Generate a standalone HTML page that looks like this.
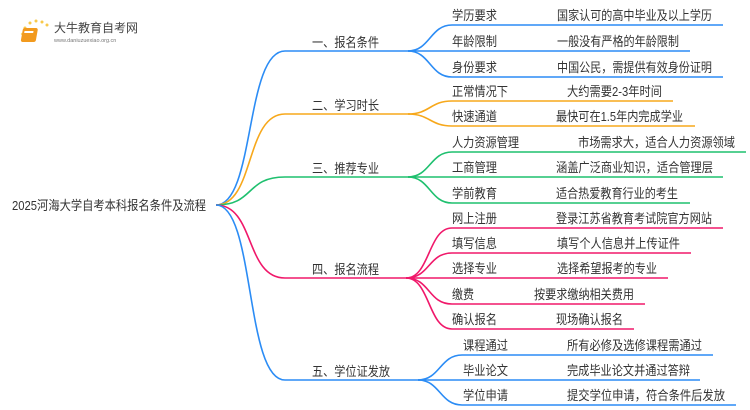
<!DOCTYPE html>
<html><head><meta charset="utf-8"><style>
html,body{margin:0;padding:0;background:#fff;width:750px;height:410px;overflow:hidden}
svg text{font-family:"Liberation Sans","Noto Sans CJK SC",sans-serif;fill:#333}
</style></head><body>
<svg width="750" height="410" viewBox="0 0 750 410" xmlns="http://www.w3.org/2000/svg">
<g>
<circle cx="25" cy="28" r="1.5" fill="#f8c94a"/><circle cx="30" cy="23" r="1.5" fill="#f8c94a"/><circle cx="36" cy="21" r="1.5" fill="#f8c94a"/><circle cx="42" cy="22" r="1.5" fill="#f8c94a"/><circle cx="47" cy="25" r="1.5" fill="#f8c94a"/><circle cx="22" cy="34" r="1.2" fill="#f8d97a"/><circle cx="23" cy="40" r="1.2" fill="#f8d97a"/>
<rect x="28" y="28" width="15" height="14" rx="2" fill="#f29a1e" transform="skewX(-10)"/>
<rect x="30" y="31" width="9" height="2" fill="#fff" transform="skewX(-10)"/>
<text x="54" y="32" font-size="12" style="fill:#444">大牛教育自考网</text>
<text x="54" y="42" font-size="5.5" style="fill:#777">www.daniuzuexiao.org.cn</text>
</g>
<g fill="none" stroke-width="1.6">
<path d="M216,205 C255,205 245,51 285,51 L410,51" stroke="#2b8cf5"/>
<path d="M216,205 C255,205 245,114 285,114 L410,114" stroke="#f7a81b"/>
<path d="M216,205 C255,205 245,177 285,177 L410,177" stroke="#1fc06f"/>
<path d="M216,205 C255,205 245,278 285,278 L408,278" stroke="#f0186a"/>
<path d="M216,205 C255,205 245,380 285,380 L420,380" stroke="#2b8cf5"/>
<path d="M408,51 C430,51 430,25 452,25 L723,25" stroke="#2b8cf5"/>
<path d="M408,51 L690,51" stroke="#2b8cf5"/>
<path d="M408,51 C430,51 430,77 452,77 L723,77" stroke="#2b8cf5"/>
<path d="M408,114 C430,114 430,101 452,101 L673,101" stroke="#f7a81b"/>
<path d="M408,114 C430,114 430,126 452,126 L695,126" stroke="#f7a81b"/>
<path d="M408,177 C430,177 430,152 452,152 L746,152" stroke="#1fc06f"/>
<path d="M408,177 L723,177" stroke="#1fc06f"/>
<path d="M408,177 C430,177 430,203 452,203 L690,203" stroke="#1fc06f"/>
<path d="M406,278 C430,278 428,228 452,228 L723,228" stroke="#f0186a"/>
<path d="M406,278 C430,278 428,253 452,253 L691,253" stroke="#f0186a"/>
<path d="M406,278 L668,278" stroke="#f0186a"/>
<path d="M406,278 C430,278 428,304 452,304 L645,304" stroke="#f0186a"/>
<path d="M406,278 C430,278 428,329 452,329 L634,329" stroke="#f0186a"/>
<path d="M418,380 C440,380 440,355 462,355 L713,355" stroke="#2b8cf5"/>
<path d="M418,380 L700,380" stroke="#2b8cf5"/>
<path d="M418,380 C440,380 440,405 462,405 L736,405" stroke="#2b8cf5"/>
</g>
<g font-size="13">
<text x="12" y="210" textLength="194" lengthAdjust="spacingAndGlyphs">2025河海大学自考本科报名条件及流程</text>
<text x="312" y="47" textLength="67" lengthAdjust="spacingAndGlyphs">一、报名条件</text>
<text x="312" y="110" textLength="67" lengthAdjust="spacingAndGlyphs">二、学习时长</text>
<text x="312" y="173" textLength="67" lengthAdjust="spacingAndGlyphs">三、推荐专业</text>
<text x="312" y="274" textLength="67" lengthAdjust="spacingAndGlyphs">四、报名流程</text>
<text x="312" y="376" textLength="78" lengthAdjust="spacingAndGlyphs">五、学位证发放</text>
<text x="452" y="20" textLength="45" lengthAdjust="spacingAndGlyphs">学历要求</text><text x="557" y="20" textLength="155" lengthAdjust="spacingAndGlyphs">国家认可的高中毕业及以上学历</text>
<text x="452" y="46" textLength="45" lengthAdjust="spacingAndGlyphs">年龄限制</text><text x="557" y="46" textLength="122" lengthAdjust="spacingAndGlyphs">一般没有严格的年龄限制</text>
<text x="452" y="72" textLength="45" lengthAdjust="spacingAndGlyphs">身份要求</text><text x="557" y="72" textLength="155" lengthAdjust="spacingAndGlyphs">中国公民，需提供有效身份证明</text>
<text x="452" y="96" textLength="56" lengthAdjust="spacingAndGlyphs">正常情况下</text><text x="567" y="96" textLength="95" lengthAdjust="spacingAndGlyphs">大约需要2-3年时间</text>
<text x="452" y="121" textLength="45" lengthAdjust="spacingAndGlyphs">快速通道</text><text x="556" y="121" textLength="127" lengthAdjust="spacingAndGlyphs">最快可在1.5年内完成学业</text>
<text x="452" y="147" textLength="67" lengthAdjust="spacingAndGlyphs">人力资源管理</text><text x="578" y="147" textLength="157" lengthAdjust="spacingAndGlyphs">市场需求大，适合人力资源领域</text>
<text x="452" y="172" textLength="45" lengthAdjust="spacingAndGlyphs">工商管理</text><text x="556" y="172" textLength="157" lengthAdjust="spacingAndGlyphs">涵盖广泛商业知识，适合管理层</text>
<text x="452" y="198" textLength="45" lengthAdjust="spacingAndGlyphs">学前教育</text><text x="556" y="198" textLength="122" lengthAdjust="spacingAndGlyphs">适合热爱教育行业的考生</text>
<text x="452" y="223" textLength="45" lengthAdjust="spacingAndGlyphs">网上注册</text><text x="556" y="223" textLength="156" lengthAdjust="spacingAndGlyphs">登录江苏省教育考试院官方网站</text>
<text x="452" y="248" textLength="45" lengthAdjust="spacingAndGlyphs">填写信息</text><text x="557" y="248" textLength="123" lengthAdjust="spacingAndGlyphs">填写个人信息并上传证件</text>
<text x="452" y="273" textLength="45" lengthAdjust="spacingAndGlyphs">选择专业</text><text x="557" y="273" textLength="100" lengthAdjust="spacingAndGlyphs">选择希望报考的专业</text>
<text x="452" y="299" textLength="22" lengthAdjust="spacingAndGlyphs">缴费</text><text x="534" y="299" textLength="100" lengthAdjust="spacingAndGlyphs">按要求缴纳相关费用</text>
<text x="452" y="324" textLength="45" lengthAdjust="spacingAndGlyphs">确认报名</text><text x="556" y="324" textLength="67" lengthAdjust="spacingAndGlyphs">现场确认报名</text>
<text x="463" y="350" textLength="45" lengthAdjust="spacingAndGlyphs">课程通过</text><text x="567" y="350" textLength="135" lengthAdjust="spacingAndGlyphs">所有必修及选修课程需通过</text>
<text x="463" y="375" textLength="45" lengthAdjust="spacingAndGlyphs">毕业论文</text><text x="567" y="375" textLength="123" lengthAdjust="spacingAndGlyphs">完成毕业论文并通过答辩</text>
<text x="463" y="400" textLength="45" lengthAdjust="spacingAndGlyphs">学位申请</text><text x="567" y="400" textLength="158" lengthAdjust="spacingAndGlyphs">提交学位申请，符合条件后发放</text>
</g>
</svg>
</body></html>
